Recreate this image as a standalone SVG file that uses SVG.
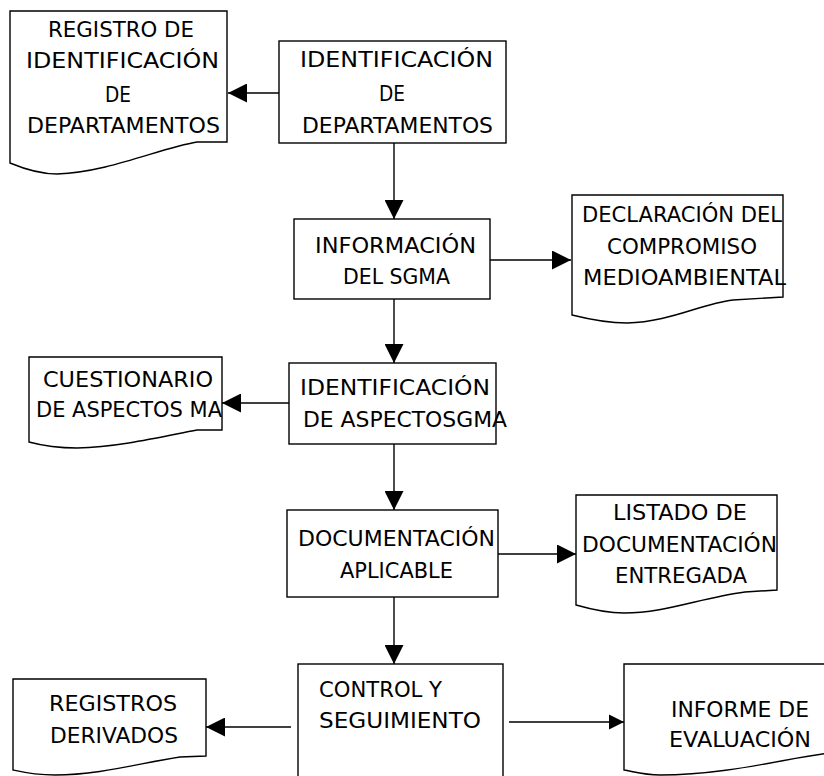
<svg xmlns="http://www.w3.org/2000/svg" width="824" height="776" viewBox="0 0 824 776">
<style>
.shape{fill:#fff;stroke:#000;stroke-width:1.4}
.conn{fill:none;stroke:#000;stroke-width:1.4}
text{font-family:"DejaVu Sans","Liberation Sans",sans-serif;font-size:21px;fill:#000}
</style>
<defs>
<marker id="arr" viewBox="0 0 20 20" refX="20" refY="10" markerWidth="19" markerHeight="19" markerUnits="userSpaceOnUse" orient="auto">
<path d="M0,0 L20,10 L0,20 Z" fill="#000"/>
</marker>
<marker id="arrS" viewBox="0 0 20 20" refX="20" refY="10" markerWidth="15" markerHeight="16" markerUnits="userSpaceOnUse" orient="auto">
<path d="M0,0 L20,10 L0,20 Z" fill="#000"/>
</marker>
</defs>
<rect width="824" height="776" fill="#fff"/>

<g id="connectors">
<line class="conn" x1="279" y1="93" x2="228" y2="93" marker-end="url(#arr)"/>
<line class="conn" x1="394" y1="143" x2="394" y2="219" marker-end="url(#arr)"/>
<line class="conn" x1="490" y1="260" x2="571" y2="260" marker-end="url(#arr)"/>
<line class="conn" x1="394" y1="299" x2="394" y2="363" marker-end="url(#arr)"/>
<line class="conn" x1="289" y1="403" x2="222" y2="403" marker-end="url(#arr)"/>
<line class="conn" x1="394" y1="444" x2="394" y2="510" marker-end="url(#arr)"/>
<line class="conn" x1="498" y1="554" x2="576" y2="554" marker-end="url(#arr)"/>
<line class="conn" x1="394" y1="597" x2="394" y2="664" marker-end="url(#arr)"/>
<line class="conn" x1="291" y1="727" x2="206" y2="727" marker-end="url(#arr)"/>
<line class="conn" x1="509" y1="722" x2="624" y2="722" marker-end="url(#arrS)"/>
</g>

<g id="doc-registro">
<path class="shape" d="M10,11 H227 V142 H197 C160,148 110,172 57,174 C38,174 22,168 10,163 Z"/>
<text x="48" y="37" textLength="146" lengthAdjust="spacingAndGlyphs">REGISTRO DE</text>
<text x="26" y="68" textLength="193" lengthAdjust="spacingAndGlyphs">IDENTIFICACIÓN</text>
<text x="105" y="102" textLength="26" lengthAdjust="spacingAndGlyphs">DE</text>
<text x="27" y="133" textLength="193" lengthAdjust="spacingAndGlyphs">DEPARTAMENTOS</text>
</g>

<g id="proc-identificacion">
<rect class="shape" x="279" y="41" width="227" height="102"/>
<text x="300" y="67" textLength="193" lengthAdjust="spacingAndGlyphs">IDENTIFICACIÓN</text>
<text x="379" y="101" textLength="26" lengthAdjust="spacingAndGlyphs">DE</text>
<text x="302" y="133" textLength="191" lengthAdjust="spacingAndGlyphs">DEPARTAMENTOS</text>
</g>

<g id="proc-informacion">
<rect class="shape" x="294" y="219" width="196" height="80"/>
<text x="315" y="253" textLength="161" lengthAdjust="spacingAndGlyphs">INFORMACIÓN</text>
<text x="343" y="284" textLength="107" lengthAdjust="spacingAndGlyphs">DEL SGMA</text>
</g>

<g id="doc-declaracion">
<path class="shape" d="M572,195 H783 V297 L733,300 C700,304 670,322 627,323 C605,323 588,319 572,315 Z"/>
<text x="582" y="222" textLength="200" lengthAdjust="spacingAndGlyphs">DECLARACIÓN DEL</text>
<text x="607" y="254" textLength="150" lengthAdjust="spacingAndGlyphs">COMPROMISO</text>
<text x="583" y="285" textLength="203" lengthAdjust="spacingAndGlyphs">MEDIOAMBIENTAL</text>
</g>

<g id="proc-aspectos">
<rect class="shape" x="289" y="363" width="207" height="81"/>
<text x="300" y="395" textLength="190" lengthAdjust="spacingAndGlyphs">IDENTIFICACIÓN</text>
<text x="303" y="427" textLength="204" lengthAdjust="spacingAndGlyphs">DE ASPECTOSGMA</text>
</g>

<g id="doc-cuestionario">
<path class="shape" d="M29,357 H222 V430 H197 C165,436 120,447 77,448 C55,448 40,445 29,442 Z"/>
<text x="43" y="387" textLength="170" lengthAdjust="spacingAndGlyphs">CUESTIONARIO</text>
<text x="36" y="417" textLength="186" lengthAdjust="spacingAndGlyphs">DE ASPECTOS MA</text>
</g>

<g id="proc-documentacion">
<rect class="shape" x="287" y="510" width="211" height="87"/>
<text x="298" y="546" textLength="197" lengthAdjust="spacingAndGlyphs">DOCUMENTACIÓN</text>
<text x="340" y="578" textLength="113" lengthAdjust="spacingAndGlyphs">APLICABLE</text>
</g>

<g id="doc-listado">
<path class="shape" d="M576,495 H777 V590 L745,592 C700,598 665,613 624,613 C605,613 590,609 576,605 Z"/>
<text x="613" y="520" textLength="134" lengthAdjust="spacingAndGlyphs">LISTADO DE</text>
<text x="582" y="552" textLength="195" lengthAdjust="spacingAndGlyphs">DOCUMENTACIÓN</text>
<text x="615" y="583" textLength="132" lengthAdjust="spacingAndGlyphs">ENTREGADA</text>
</g>

<g id="proc-control">
<rect class="shape" x="298" y="664" width="205" height="130"/>
<text x="319" y="697" textLength="123" lengthAdjust="spacingAndGlyphs">CONTROL Y</text>
<text x="319" y="728" textLength="162" lengthAdjust="spacingAndGlyphs">SEGUIMIENTO</text>
</g>

<g id="doc-registros">
<path class="shape" d="M13,679 H206 V756 L180,757 C140,763 100,775 55,775 C35,775 22,772 13,770 Z"/>
<text x="49" y="711" textLength="128" lengthAdjust="spacingAndGlyphs">REGISTROS</text>
<text x="50" y="743" textLength="128" lengthAdjust="spacingAndGlyphs">DERIVADOS</text>
</g>

<g id="doc-informe">
<path class="shape" d="M624,664 H840 V752 L830,753 C790,757 730,775 660,775 C645,775 635,772 624,770 Z"/>
<text x="671" y="717" textLength="138" lengthAdjust="spacingAndGlyphs">INFORME DE</text>
<text x="669" y="747" textLength="142" lengthAdjust="spacingAndGlyphs">EVALUACIÓN</text>
</g>
</svg>
